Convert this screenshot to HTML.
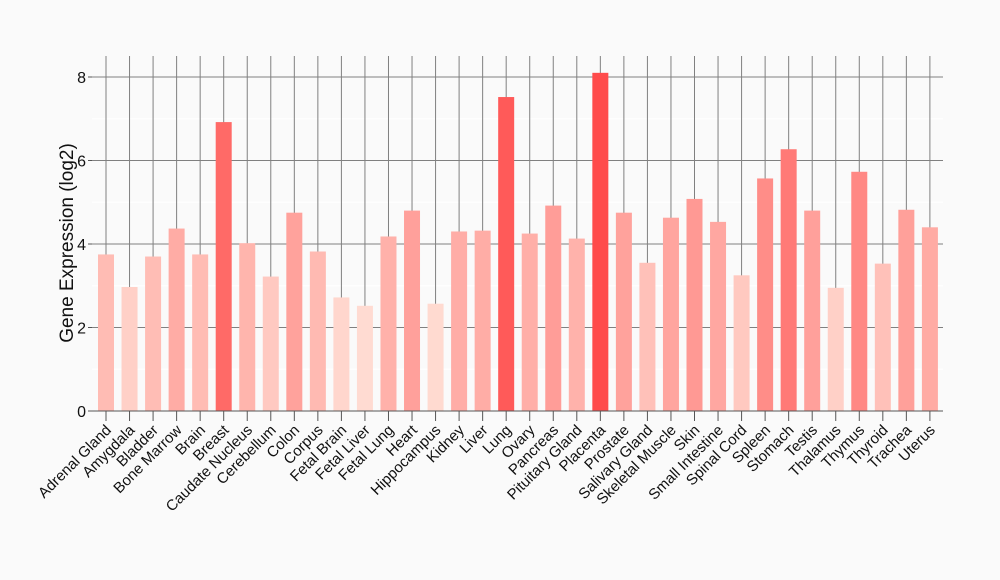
<!DOCTYPE html>
<html><head><meta charset="utf-8"><style>
html,body{margin:0;padding:0;background:#fafafa;}
svg{display:block;font-family:"Liberation Sans",Arial,sans-serif;}
</style></head><body>
<svg id="s" width="1000" height="580" xmlns="http://www.w3.org/2000/svg"></svg>
<script>
const names=["Adrenal Gland","Amygdala","Bladder","Bone Marrow","Brain","Breast","Caudate Nucleus","Cerebellum","Colon","Corpus","Fetal Brain","Fetal Liver","Fetal Lung","Heart","Hippocampus","Kidney","Liver","Lung","Ovary","Pancreas","Pituitary Gland","Placenta","Prostate","Salivary Gland","Skeletal Muscle","Skin","Small Intestine","Spinal Cord","Spleen","Stomach","Testis","Thalamus","Thymus","Thyroid","Trachea","Uterus"];
const vals=[3.75,2.97,3.7,4.37,3.75,6.92,4.02,3.22,4.75,3.82,2.72,2.52,4.18,4.8,2.57,4.3,4.32,7.52,4.25,4.92,4.13,8.1,4.75,3.55,4.63,5.08,4.53,3.25,5.57,6.27,4.8,2.95,5.73,3.53,4.82,4.4];
const y0=411,k=41.75,x0=106,dx=23.54,L=92,R=943,T=56;
let h='';
for(let v=1;v<=7;v+=2){h+=`<line x1="${L}" x2="${R}" y1="${y0-v*k}" y2="${y0-v*k}" stroke="#ffffff" stroke-width="1"/>`;}
for(let v=2;v<=8;v+=2){h+=`<line x1="${L}" x2="${R}" y1="${y0-v*k}" y2="${y0-v*k}" stroke="#808080" stroke-width="1"/>`;}
names.forEach((n,i)=>{const x=x0+i*dx;h+=`<line x1="${x}" x2="${x}" y1="${T}" y2="${y0}" stroke="#808080" stroke-width="1"/>`;});
names.forEach((n,i)=>{const x=x0+i*dx,v=vals[i];
 const t=Math.max(0,Math.min(1,(v-2.5)/(8.1-2.5)));
 const g=Math.round(220-t*(220-75)),b=Math.round(210-t*(210-75));
 h+=`<rect x="${x-8}" y="${y0-v*k}" width="16" height="${v*k}" fill="rgb(255,${g},${b})"/>`;
 h+=`<line x1="${x}" x2="${x}" y1="${y0}" y2="${y0+10}" stroke="#555" stroke-width="1"/>`;
 h+=`<text transform="translate(${x+6},${y0+20}) rotate(-45)" text-anchor="end" font-size="15" fill="#111">${n}</text>`;
});
h+=`<line x1="${L}" x2="${R}" y1="${y0}" y2="${y0}" stroke="#555" stroke-width="1"/>`;
for(let v=0;v<=8;v+=2){const y=y0-v*k;h+=`<line x1="${L-4}" x2="${L}" y1="${y}" y2="${y}" stroke="#555"/><text x="${L-6}" y="${y+6}" text-anchor="end" font-size="16" fill="#111">${v}</text>`;}
h+=`<text transform="translate(73,243) rotate(-90)" text-anchor="middle" font-size="19" fill="#111">Gene Expression (log2)</text>`;
document.getElementById('s').innerHTML=h;
</script>
</body></html>
